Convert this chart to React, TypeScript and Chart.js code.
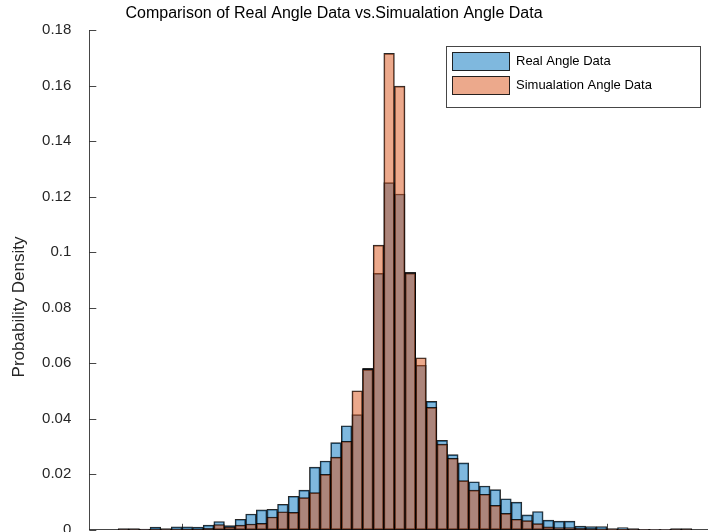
import React, { useEffect, useRef } from "react";
import { Chart, registerables } from "chart.js";

Chart.register(...registerables);

const titleText = "Comparison of Real Angle Data vs.Simualation Angle Data";
const yAxisTitle = "Probability Density";
const seriesNames = ["Real Angle Data", "Simualation Angle Data"];

// histogram bin centres (degrees)
const binCenters = [
  -63.75, -61.25, -58.75, -56.25, -53.75, -51.25, -48.75, -46.25, -43.75, -41.25,
  -38.75, -36.25, -33.75, -31.25, -28.75, -26.25, -23.75, -21.25, -18.75, -16.25,
  -13.75, -11.25, -8.75, -6.25, -3.75, -1.25, 1.25, 3.75, 6.25, 8.75,
  11.25, 13.75, 16.25, 18.75, 21.25, 23.75, 26.25, 28.75, 31.25, 33.75,
  36.25, 38.75, 41.25, 43.75, 46.25, 48.75, 51.25, 53.75, 56.25, 58.75,
  61.25, 63.75, 66.25, 68.75,
];

const realDensity = [
  0.0004, 0.0004, 0.0003, 0.001, 0.0004, 0.0011, 0.0011, 0.001, 0.0017, 0.003,
  0.0015, 0.0038, 0.0057, 0.0072, 0.0074, 0.0092, 0.0121, 0.0143, 0.0226, 0.0248,
  0.0314, 0.0375, 0.0415, 0.0582, 0.0924, 0.1251, 0.121, 0.0928, 0.0593, 0.0463,
  0.0322, 0.0271, 0.0241, 0.0173, 0.0158, 0.0145, 0.0112, 0.01, 0.0054, 0.0066,
  0.0035, 0.0031, 0.0031, 0.0013, 0.0012, 0.0012, 0.0004, 0.0008, 0.0004, 0.0002,
  0.0001, 0.0001, 0.0004, 0.0004,
];

const simDensity = [
  0.0002, 0.0002, 0.0002, 0.0001, 0.0002, 0.0001, 0.0002, 0.0002, 0.0005, 0.0019,
  0.0011, 0.0017, 0.0021, 0.0023, 0.0046, 0.0065, 0.0063, 0.0116, 0.0134, 0.02,
  0.0262, 0.0319, 0.0501, 0.0578, 0.1026, 0.1717, 0.1599, 0.0925, 0.062, 0.0441,
  0.0309, 0.0258, 0.0177, 0.0143, 0.0128, 0.0088, 0.0059, 0.0038, 0.0033, 0.0022,
  0.0011, 0.0008, 0.0008, 0.0005, 0.0004, 0.0003, 0.0003, 0.0003, 0.0002, 0.0001,
  0.0001, 0.0001, 0.0002, 0.0002,
];

const yTickValues = [0, 0.02, 0.04, 0.06, 0.08, 0.1, 0.12, 0.14, 0.16, 0.18];
const yTickLabels = ["0", "0.02", "0.04", "0.06", "0.08", "0.1", "0.12", "0.14", "0.16", "0.18"];
const xTickValues = [-50, 0, 50];

const X_MIN = -71.8;
const X_MAX = 73.8;

const BLUE = "rgba(0,114,189,0.5)";
const ORANGE = "rgba(217,83,25,0.5)";
const EDGE = "rgba(0,0,0,0.85)";
const AXIS = "rgba(38,38,38,0.85)";
const FONT = '"Liberation Sans", Arial, Helvetica, sans-serif';

const overlayPlugin = {
  id: "matlabOverlay",
  beforeDatasetsDraw(chart: any) {
    const { ctx, chartArea, scales } = chart;
    ctx.save();
    ctx.strokeStyle = AXIS;
    ctx.lineWidth = 1;
    ctx.beginPath();
    for (const v of xTickValues) {
      const px = Math.round(scales.x.getPixelForValue(v)) + 0.5;
      ctx.moveTo(px, chartArea.bottom);
      ctx.lineTo(px, chartArea.bottom - 6);
    }
    for (const v of yTickValues) {
      const py = Math.round(scales.y.getPixelForValue(v)) + 0.5;
      ctx.moveTo(chartArea.left, py);
      ctx.lineTo(chartArea.left + 7, py);
    }
    ctx.stroke();
    ctx.restore();
  },
  afterDraw(chart: any) {
    const { ctx } = chart;
    ctx.save();
    // title
    ctx.fillStyle = "#000";
    ctx.font = `16px ${FONT}`;
    ctx.textAlign = "center";
    ctx.textBaseline = "middle";
    ctx.fillText(titleText, 334, 14);
    // y axis title
    ctx.save();
    ctx.translate(19, 307);
    ctx.rotate(-Math.PI / 2);
    ctx.font = `17px ${FONT}`;
    ctx.fillStyle = "#262626";
    ctx.fillText(yAxisTitle, 0, 0);
    ctx.restore();
    // legend
    const bx = 446.5, by = 46.5, bw = 254, bh = 61;
    ctx.fillStyle = "#fff";
    ctx.fillRect(bx, by, bw, bh);
    ctx.strokeStyle = AXIS;
    ctx.lineWidth = 1;
    ctx.strokeRect(bx, by, bw, bh);
    const colors = [BLUE, ORANGE];
    const rowY = [52.5, 76.5];
    ctx.font = `13px ${FONT}`;
    ctx.textAlign = "left";
    ctx.textBaseline = "middle";
    for (let i = 0; i < seriesNames.length; i++) {
      ctx.fillStyle = colors[i];
      ctx.fillRect(452.5, rowY[i], 57, 18);
      ctx.strokeStyle = EDGE;
      ctx.strokeRect(452.5, rowY[i], 57, 18);
      ctx.fillStyle = "#000";
      ctx.fillText(seriesNames[i], 516, rowY[i] + 9);
    }
    ctx.restore();
  },
};

export default function App() {
  const canvasRef = useRef<HTMLCanvasElement | null>(null);

  useEffect(() => {
    if (!canvasRef.current) return;
    const chart = new Chart(canvasRef.current, {
      type: "bar",
      data: {
        datasets: [
          {
            label: seriesNames[0],
            data: binCenters.map((x, i) => ({ x, y: realDensity[i] })),
            backgroundColor: BLUE,
            borderColor: EDGE,
            borderWidth: 1,
            borderSkipped: false,
            grouped: false,
            barPercentage: 1,
            categoryPercentage: 1,
            order: 2,
          },
          {
            label: seriesNames[1],
            data: binCenters.map((x, i) => ({ x, y: simDensity[i] })),
            backgroundColor: ORANGE,
            borderColor: EDGE,
            borderWidth: 1,
            borderSkipped: false,
            grouped: false,
            barPercentage: 1,
            categoryPercentage: 1,
            order: 1,
          },
        ] as any,
      },
      options: {
        animation: false,
        responsive: false,
        events: [],
        layout: { padding: { top: 30.3, left: 0, right: 0, bottom: 0 } },
        plugins: {
          legend: { display: false },
          title: { display: false },
          tooltip: { enabled: false },
        },
        scales: {
          x: {
            type: "linear",
            min: X_MIN,
            max: X_MAX,
            offset: false,
            grid: { display: false, drawTicks: false },
            border: { display: true, color: AXIS, width: 1 },
            ticks: { display: false },
            afterFit: (scale: any) => {
              scale.height = 2.2;
              scale.paddingLeft = 0;
              scale.paddingRight = 0;
            },
          },
          y: {
            type: "linear",
            min: 0,
            max: 0.18,
            grid: { display: false, drawTicks: false },
            border: { display: true, color: AXIS, width: 1 },
            afterBuildTicks: (scale: any) => {
              scale.ticks = yTickValues.map((v) => ({ value: v }));
            },
            ticks: {
              padding: 18,
              color: "#262626",
              font: { family: FONT, size: 15 },
              callback: (value: any) => {
                const idx = yTickValues.findIndex((v) => Math.abs(v - Number(value)) < 1e-9);
                return idx >= 0 ? yTickLabels[idx] : "";
              },
            },
            afterFit: (scale: any) => {
              scale.width = 89.3;
              scale.paddingTop = 0;
              scale.paddingBottom = 0;
            },
          },
        },
      } as any,
      plugins: [overlayPlugin],
    });
    return () => chart.destroy();
  }, []);

  return (
    <div style={{ position: "absolute", left: 0, top: 0, width: 708, height: 532, background: "#fff" }}>
      <canvas ref={canvasRef} width={708} height={532} />
    </div>
  );
}
